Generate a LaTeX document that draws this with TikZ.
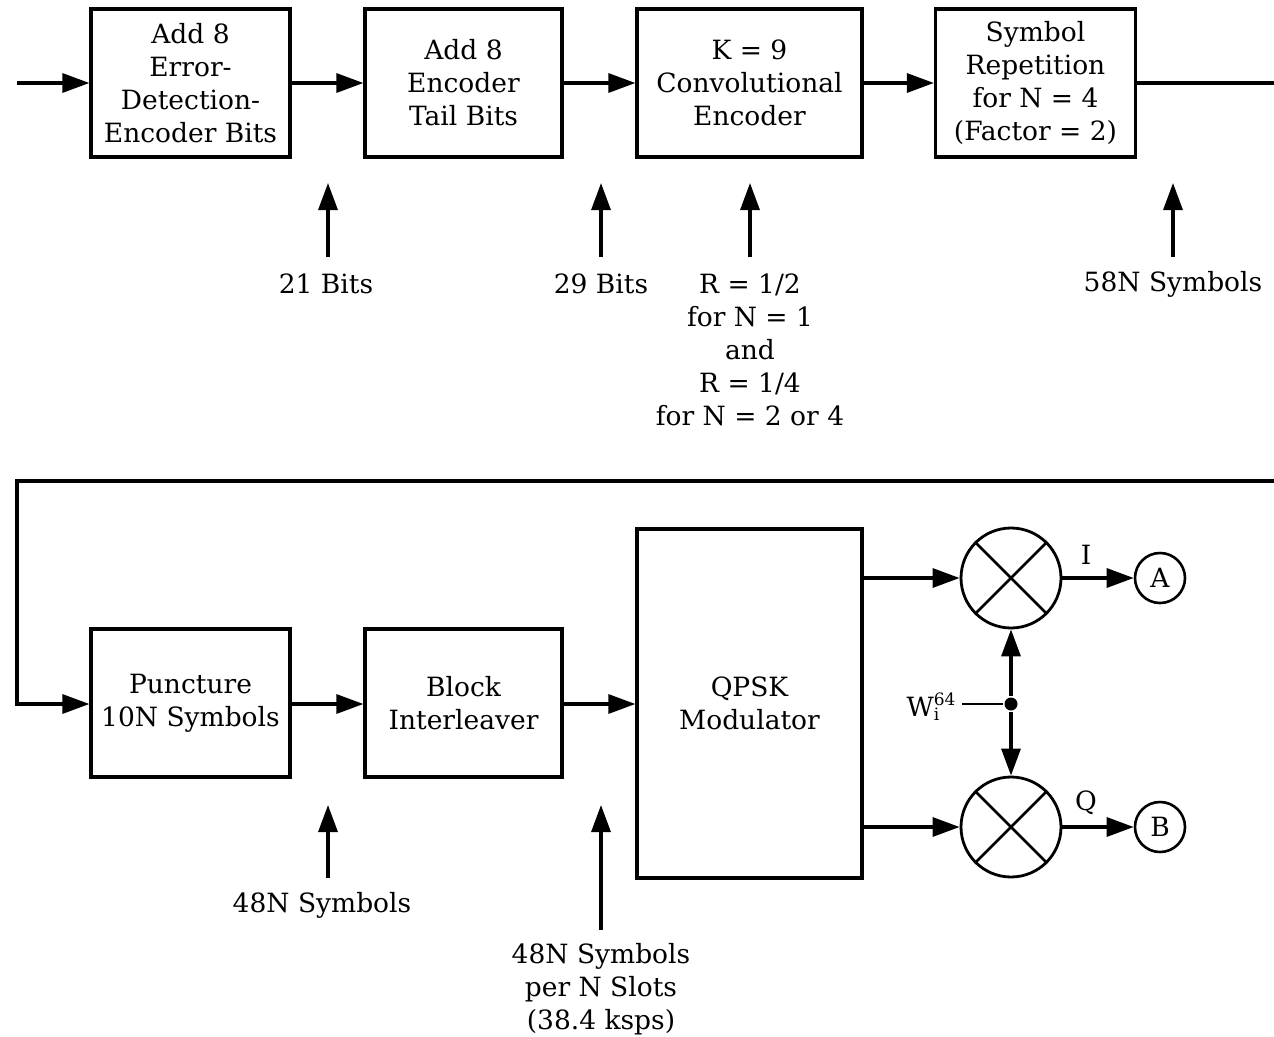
\documentclass[tikz,border=0pt]{standalone}
\usepackage{fontspec}
\setmainfont{DejaVu Serif}
\usetikzlibrary{arrows.meta}
\begin{document}
\begin{tikzpicture}[x=1pt,y=-1pt,
  line width=3.2pt,
  >={Triangle[length=27pt,width=19pt]},
  txt/.style={font=\fontsize{26.5}{33}\selectfont},
  box/.style={draw, rectangle, align=center, inner sep=0pt, txt},
  lbl/.style={align=center, inner sep=0pt, txt},
  mix/.style={draw, circle, minimum size=100pt, inner sep=0pt, line width=2.8pt},
  term/.style={draw, circle, minimum size=50pt, inner sep=0pt, line width=2.6pt, txt},
  ]
\useasboundingbox (0,0) rectangle (1274,1036);

% top row
\node[box, minimum width=199pt, minimum height=148pt] (b1) at (190.5,83) {Add 8\\Error-\\Detection-\\Encoder Bits};
\node[box, minimum width=197pt, minimum height=148pt] (b2) at (463.5,83) {Add 8\\Encoder\\Tail Bits};
\node[box, minimum width=225pt, minimum height=148pt] (b3) at (749.5,83) {K = 9\\Convolutional\\Encoder};
\node[box, minimum width=200pt, minimum height=148pt] (b4) at (1035.5,83) {Symbol\\Repetition\\for N = 4\\(Factor = 2)};

\coordinate (in) at (17,83);
\coordinate (out) at (1274,83);
\draw[->] (in) -- (b1.west);
\draw[->] (b1) -- (b2);
\draw[->] (b2) -- (b3);
\draw[->] (b3) -- (b4);
\draw (b4.east) -- (out);

% top rate arrows
\coordinate (t1) at (328,257); \coordinate (h1) at (328,183);
\coordinate (t2) at (601,257); \coordinate (h2) at (601,183);
\coordinate (t3) at (750,257); \coordinate (h3) at (750,183);
\coordinate (t4) at (1173,257); \coordinate (h4) at (1173,183);
\draw[->] (t1) -- (h1);
\draw[->] (t2) -- (h2);
\draw[->] (t3) -- (h3);
\draw[->] (t4) -- (h4);
\node[lbl] (l1) at (326,284) {21 Bits};
\node[lbl] (l2) at (601,284) {29 Bits};
\node[lbl, anchor=north] (l3) at (750,272) {R = 1/2\\for N = 1\\and\\R = 1/4\\for N = 2 or 4};
\node[lbl] (l4) at (1173,284) {58N Symbols};

% bottom row
\node[box, minimum width=199pt, minimum height=148pt] (p) at (190.5,703) {Puncture\\10N Symbols};
\node[box, minimum width=197pt, minimum height=148pt] (bi) at (463.5,703) {Block\\Interleaver};
\node[box, minimum width=225pt, minimum height=349pt] (q) at (749.5,703.5) {QPSK\\Modulator};

\coordinate (r1) at (1274,481);
\coordinate (r2) at (17,481);
\coordinate (r3) at (17,704);
\draw[->] (r1) -- (r2) -- (r3) -- (p.west |- r3);
\draw[->] (p.east |- r3) -- (bi.west |- r3);
\draw[->] (bi.east |- r3) -- (q.west |- r3);

% mixers
\node[mix] (m1) at (1011,578) {};
\node[mix] (m2) at (1011,827) {};
\draw[line width=2.6pt] (m1.north west) -- (m1.south east) (m1.north east) -- (m1.south west);
\draw[line width=2.6pt] (m2.north west) -- (m2.south east) (m2.north east) -- (m2.south west);
\node[term] (A) at (1160,578) {A};
\node[term] (B) at (1160,827) {B};

\draw[->] (q.east |- m1) -- (m1.west);
\draw[->] (q.east |- m2) -- (m2.west);
\draw[->] (m1.east) -- (A.west);
\draw[->] (m2.east) -- (B.west);
\node[lbl] (I) at (1086,555) {I};
\node[lbl] (Q) at (1086,803) {Q};

\node[circle, fill, inner sep=0pt, minimum size=13pt] (dot) at (1011,704) {};
\draw[->] (dot) -- (m1.south);
\draw[->] (dot) -- (m2.north);
\node[lbl, anchor=east] (W) at (957,707) {W\rlap{\raisebox{-0.35ex}{\fontsize{17}{17}\selectfont i}}\raisebox{0.75ex}{\fontsize{17}{17}\selectfont 64}};
\coordinate (wl) at (962,704);
\draw[line width=2.4pt] (wl) -- (dot);

% bottom rate arrows
\coordinate (t5) at (328,878); \coordinate (h5) at (328,805);
\coordinate (t6) at (601,930); \coordinate (h6) at (601,805);
\draw[->] (t5) -- (h5);
\draw[->] (t6) -- (h6);
\node[lbl] (l5) at (322,905) {48N Symbols};
\node[lbl, anchor=north] (l6) at (601,942) {48N Symbols\\per N Slots\\(38.4 ksps)};
\end{tikzpicture}
\end{document}
